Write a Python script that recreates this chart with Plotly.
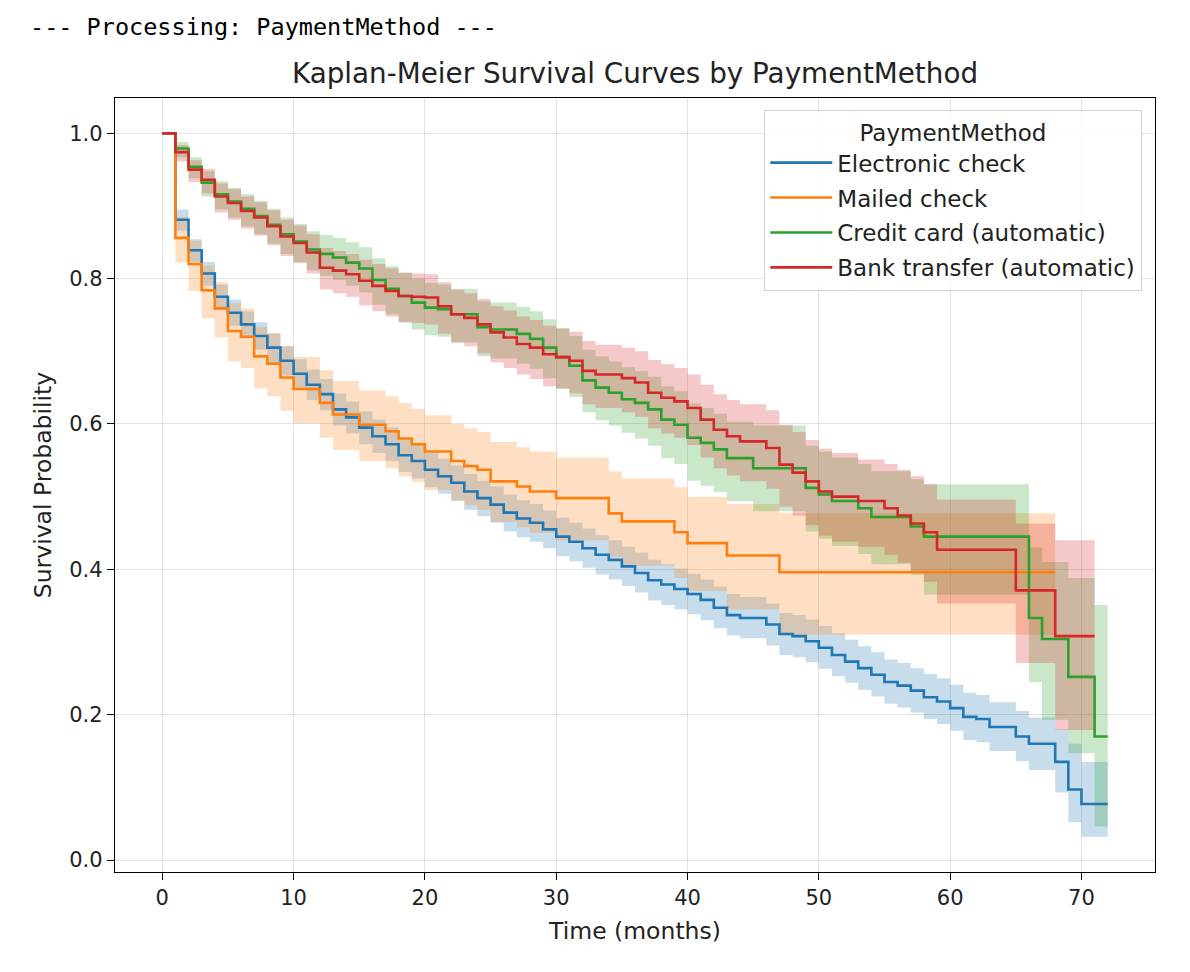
import plotly.graph_objects as go

# ---------------- data ----------------
months = list(range(0, 73))

series_names = ["Electronic check", "Mailed check", "Credit card (automatic)", "Bank transfer (automatic)"]
series_colors = ["#1f77b4", "#ff7f0e", "#2ca02c", "#d62728"]
band_colors = ["rgba(31,119,180,0.25)", "rgba(255,127,14,0.25)", "rgba(44,160,44,0.25)", "rgba(214,39,40,0.25)"]

elec_surv = [1.000, 0.881, 0.839, 0.807, 0.775, 0.753, 0.737, 0.721, 0.705, 0.687,
             0.669, 0.654, 0.641, 0.620, 0.609, 0.595, 0.583, 0.572, 0.557, 0.549,
             0.537, 0.528, 0.519, 0.507, 0.498, 0.489, 0.478, 0.470, 0.464, 0.455,
             0.445, 0.438, 0.429, 0.420, 0.413, 0.404, 0.395, 0.385, 0.379, 0.373,
             0.366, 0.358, 0.347, 0.337, 0.333, 0.333, 0.324, 0.311, 0.308, 0.301,
             0.292, 0.282, 0.273, 0.264, 0.255, 0.245, 0.240, 0.233, 0.224, 0.218,
             0.209, 0.197, 0.194, 0.183, 0.183, 0.170, 0.160, 0.160, 0.135, 0.097,
             0.077, 0.077, 0.077]
elec_lo = [1.000, 0.866, 0.823, 0.790, 0.757, 0.735, 0.718, 0.702, 0.685, 0.667,
           0.648, 0.633, 0.619, 0.598, 0.587, 0.572, 0.560, 0.549, 0.534, 0.525,
           0.513, 0.504, 0.494, 0.482, 0.473, 0.464, 0.452, 0.444, 0.438, 0.429,
           0.418, 0.411, 0.402, 0.393, 0.386, 0.377, 0.368, 0.357, 0.351, 0.345,
           0.338, 0.330, 0.319, 0.309, 0.305, 0.305, 0.295, 0.282, 0.279, 0.272,
           0.263, 0.253, 0.244, 0.234, 0.225, 0.215, 0.210, 0.203, 0.194, 0.187,
           0.178, 0.165, 0.162, 0.150, 0.150, 0.136, 0.124, 0.124, 0.093, 0.052,
           0.032, 0.032, 0.032]
elec_hi = [1.000, 0.895, 0.854, 0.823, 0.792, 0.771, 0.755, 0.740, 0.724, 0.707,
           0.689, 0.675, 0.662, 0.642, 0.631, 0.617, 0.606, 0.595, 0.580, 0.572,
           0.560, 0.552, 0.543, 0.531, 0.522, 0.514, 0.503, 0.495, 0.490, 0.481,
           0.471, 0.464, 0.456, 0.447, 0.440, 0.431, 0.423, 0.413, 0.407, 0.401,
           0.394, 0.386, 0.376, 0.366, 0.362, 0.362, 0.353, 0.340, 0.337, 0.331,
           0.322, 0.312, 0.303, 0.294, 0.286, 0.276, 0.271, 0.264, 0.256, 0.250,
           0.241, 0.230, 0.227, 0.217, 0.217, 0.205, 0.196, 0.196, 0.180, 0.160,
           0.135, 0.135, 0.135]

mail_surv = [1.000, 0.856, 0.820, 0.784, 0.759, 0.728, 0.720, 0.693, 0.683, 0.664,
             0.648, 0.648, 0.629, 0.613, 0.613, 0.599, 0.599, 0.590, 0.580, 0.572,
             0.562, 0.562, 0.549, 0.542, 0.537, 0.521, 0.521, 0.514, 0.507, 0.507,
             0.498, 0.498, 0.498, 0.498, 0.477, 0.466, 0.466, 0.466, 0.466, 0.451,
             0.436, 0.436, 0.436, 0.419, 0.419, 0.419, 0.419, 0.396, 0.396, 0.396,
             0.396, 0.396, 0.396, 0.396, 0.396, 0.396, 0.396, 0.396, 0.396, 0.396,
             0.396, 0.396, 0.396, 0.396, 0.396, 0.396, 0.396, 0.396, 0.396]
mail_lo = [1.000, 0.822, 0.783, 0.745, 0.719, 0.686, 0.677, 0.649, 0.638, 0.618,
           0.601, 0.601, 0.581, 0.564, 0.564, 0.549, 0.549, 0.539, 0.528, 0.520,
           0.509, 0.509, 0.495, 0.488, 0.482, 0.465, 0.465, 0.458, 0.450, 0.450,
           0.440, 0.440, 0.440, 0.440, 0.417, 0.405, 0.405, 0.405, 0.405, 0.388,
           0.370, 0.370, 0.370, 0.345, 0.345, 0.345, 0.345, 0.310, 0.310, 0.310,
           0.310, 0.310, 0.310, 0.310, 0.310, 0.310, 0.310, 0.310, 0.310, 0.310,
           0.310, 0.310, 0.310, 0.310, 0.310, 0.310, 0.310, 0.310, 0.310]
mail_hi = [1.000, 0.885, 0.852, 0.818, 0.795, 0.766, 0.759, 0.734, 0.725, 0.707,
           0.692, 0.692, 0.674, 0.659, 0.659, 0.646, 0.646, 0.638, 0.629, 0.621,
           0.612, 0.612, 0.600, 0.594, 0.589, 0.575, 0.575, 0.568, 0.562, 0.562,
           0.554, 0.554, 0.554, 0.554, 0.535, 0.525, 0.525, 0.525, 0.525, 0.513,
           0.500, 0.500, 0.500, 0.490, 0.490, 0.490, 0.490, 0.477, 0.477, 0.477,
           0.477, 0.477, 0.477, 0.477, 0.477, 0.477, 0.477, 0.477, 0.477, 0.477,
           0.477, 0.477, 0.477, 0.477, 0.477, 0.477, 0.477, 0.477, 0.477]

card_surv = [1.000, 0.979, 0.954, 0.932, 0.916, 0.906, 0.896, 0.886, 0.874, 0.861,
             0.851, 0.840, 0.834, 0.829, 0.822, 0.814, 0.798, 0.786, 0.776, 0.767,
             0.760, 0.758, 0.751, 0.751, 0.733, 0.730, 0.730, 0.724, 0.717, 0.705,
             0.692, 0.680, 0.660, 0.650, 0.643, 0.634, 0.629, 0.620, 0.606, 0.599,
             0.581, 0.574, 0.565, 0.553, 0.553, 0.539, 0.539, 0.539, 0.539, 0.512,
             0.503, 0.494, 0.494, 0.484, 0.472, 0.472, 0.472, 0.459, 0.445, 0.445,
             0.445, 0.445, 0.445, 0.445, 0.445, 0.445, 0.333, 0.304, 0.304, 0.252,
             0.252, 0.170, 0.170]
card_lo = [1.000, 0.967, 0.938, 0.913, 0.895, 0.884, 0.872, 0.861, 0.848, 0.834,
           0.823, 0.811, 0.804, 0.798, 0.790, 0.781, 0.764, 0.751, 0.740, 0.730,
           0.722, 0.720, 0.712, 0.712, 0.693, 0.690, 0.690, 0.683, 0.676, 0.663,
           0.649, 0.637, 0.616, 0.605, 0.598, 0.588, 0.580, 0.570, 0.553, 0.545,
           0.522, 0.515, 0.506, 0.494, 0.494, 0.480, 0.480, 0.480, 0.480, 0.452,
           0.442, 0.432, 0.432, 0.421, 0.407, 0.407, 0.407, 0.392, 0.365, 0.365,
           0.365, 0.365, 0.365, 0.365, 0.365, 0.365, 0.245, 0.193, 0.193, 0.147,
           0.147, 0.046, 0.046]
card_hi = [1.000, 0.988, 0.967, 0.948, 0.934, 0.925, 0.916, 0.907, 0.896, 0.884,
           0.875, 0.865, 0.860, 0.856, 0.850, 0.843, 0.828, 0.817, 0.808, 0.800,
           0.794, 0.792, 0.786, 0.786, 0.769, 0.767, 0.767, 0.761, 0.755, 0.744,
           0.732, 0.721, 0.702, 0.693, 0.686, 0.678, 0.673, 0.665, 0.652, 0.645,
           0.628, 0.622, 0.614, 0.603, 0.603, 0.598, 0.598, 0.598, 0.598, 0.570,
           0.562, 0.554, 0.554, 0.545, 0.535, 0.535, 0.535, 0.524, 0.517, 0.517,
           0.517, 0.517, 0.517, 0.517, 0.517, 0.517, 0.430, 0.410, 0.410, 0.388,
           0.388, 0.351, 0.351]

bank_surv = [1.000, 0.974, 0.950, 0.936, 0.913, 0.904, 0.893, 0.884, 0.872, 0.858,
             0.849, 0.836, 0.815, 0.811, 0.806, 0.797, 0.790, 0.783, 0.776, 0.775,
             0.774, 0.762, 0.751, 0.746, 0.737, 0.726, 0.719, 0.710, 0.705, 0.696,
             0.692, 0.687, 0.673, 0.668, 0.668, 0.663, 0.657, 0.643, 0.636, 0.631,
             0.622, 0.606, 0.592, 0.583, 0.576, 0.576, 0.567, 0.544, 0.533, 0.521,
             0.507, 0.500, 0.500, 0.494, 0.494, 0.484, 0.474, 0.463, 0.451, 0.427,
             0.427, 0.427, 0.427, 0.427, 0.427, 0.371, 0.371, 0.371, 0.308, 0.308,
             0.308, 0.308]
bank_lo = [1.000, 0.961, 0.933, 0.917, 0.891, 0.881, 0.869, 0.859, 0.846, 0.831,
           0.821, 0.807, 0.785, 0.780, 0.775, 0.763, 0.755, 0.748, 0.740, 0.739,
           0.737, 0.724, 0.712, 0.707, 0.697, 0.685, 0.677, 0.668, 0.662, 0.652,
           0.648, 0.642, 0.627, 0.622, 0.622, 0.616, 0.610, 0.594, 0.587, 0.581,
           0.571, 0.554, 0.539, 0.529, 0.521, 0.521, 0.511, 0.486, 0.474, 0.461,
           0.446, 0.438, 0.438, 0.431, 0.431, 0.420, 0.409, 0.396, 0.383, 0.353,
           0.353, 0.353, 0.353, 0.353, 0.353, 0.271, 0.271, 0.271, 0.179, 0.179,
           0.179, 0.179]
bank_hi = [1.000, 0.984, 0.963, 0.951, 0.931, 0.923, 0.913, 0.905, 0.894, 0.881,
           0.873, 0.861, 0.842, 0.838, 0.834, 0.826, 0.820, 0.814, 0.808, 0.807,
           0.806, 0.795, 0.785, 0.780, 0.772, 0.762, 0.756, 0.748, 0.743, 0.735,
           0.731, 0.727, 0.714, 0.709, 0.709, 0.705, 0.700, 0.688, 0.682, 0.677,
           0.668, 0.654, 0.641, 0.633, 0.627, 0.627, 0.619, 0.599, 0.589, 0.578,
           0.566, 0.560, 0.560, 0.551, 0.551, 0.545, 0.537, 0.528, 0.517, 0.496,
           0.496, 0.496, 0.496, 0.496, 0.496, 0.463, 0.463, 0.463, 0.440, 0.440,
           0.440, 0.440]

x_ticks = [0, 10, 20, 30, 40, 50, 60, 70]
y_ticks = [0.0, 0.2, 0.4, 0.6, 0.8, 1.0]

surv = [elec_surv, mail_surv, card_surv, bank_surv]
lows = [elec_lo, mail_lo, card_lo, bank_lo]
highs = [elec_hi, mail_hi, card_hi, bank_hi]

# ---------------- figure ----------------
FONT = "DejaVu Sans"
fig = go.Figure()

# confidence bands first (they sit below all curves)
for i, name in enumerate(series_names):
    t = months[:len(surv[i])]
    fig.add_trace(go.Scatter(x=t, y=lows[i], mode="lines", line=dict(width=0, shape="hv"),
                             hoverinfo="skip", showlegend=False, legendgroup=name))
    fig.add_trace(go.Scatter(x=t, y=highs[i], mode="lines", line=dict(width=0, shape="hv"),
                             fill="tonexty", fillcolor=band_colors[i],
                             hoverinfo="skip", showlegend=False, legendgroup=name))

# survival curves on top
for i, name in enumerate(series_names):
    t = months[:len(surv[i])]
    fig.add_trace(go.Scatter(x=t, y=surv[i], mode="lines", name=name, legendgroup=name,
                             line=dict(color=series_colors[i], width=2.6, shape="hv")))

axis_common = dict(showline=True, mirror=True, linecolor="black", linewidth=1.4,
                   ticks="outside", ticklen=7, tickwidth=1.4, tickcolor="black",
                   showgrid=True, gridcolor="rgba(176,176,176,0.35)", gridwidth=1.2,
                   zeroline=False, tickfont=dict(family=FONT, size=21, color="#222222"))

fig.update_xaxes(range=[-3.6, 75.6], tickvals=x_ticks,
                 title=dict(text="Time (months)", font=dict(family=FONT, size=23.5, color="#222222"), standoff=13),
                 **axis_common)
fig.update_yaxes(range=[-0.0165, 1.0485], tickvals=y_ticks, tickformat=".1f",
                 title=dict(text="Survival Probability", font=dict(family=FONT, size=23.5, color="#222222"), standoff=10),
                 **axis_common)

fig.update_layout(
    width=1190, height=972,
    margin=dict(l=115, r=35, t=98, b=100),
    paper_bgcolor="white", plot_bgcolor="white",
    font=dict(family=FONT, color="#222222"),
    title=dict(text="Kaplan-Meier Survival Curves by PaymentMethod",
               font=dict(family=FONT, size=27.8, color="#222222"),
               x=0.5, xref="paper", xanchor="center",
               y=1 - 73 / 972, yref="container", yanchor="middle"),
    legend=dict(title=dict(text="PaymentMethod", side="top center",
                           font=dict(family=FONT, size=23, color="#222222")),
                font=dict(family=FONT, size=23, color="#222222"),
                x=0.9875, xanchor="right", y=0.9845, yanchor="top",
                bgcolor="rgba(255,255,255,0.85)", bordercolor="#d3d3d3", borderwidth=1.3,
                tracegroupgap=2, itemwidth=62),
    annotations=[dict(text="--- Processing: PaymentMethod ---", xref="paper", yref="paper",
                      x=(28 - 115) / 1040, y=1 + (98 - 27) / 774, xanchor="left", yanchor="middle",
                      showarrow=False, font=dict(family="DejaVu Sans Mono", size=23.5, color="black"))],
)

fig.write_html("out.html")
